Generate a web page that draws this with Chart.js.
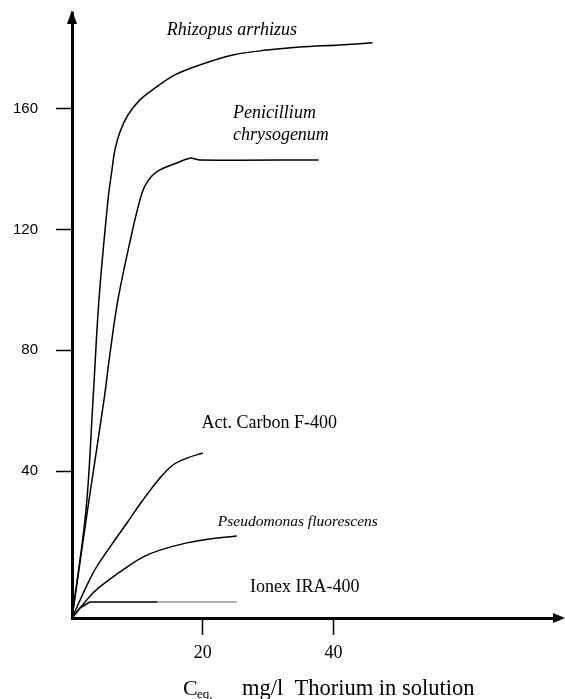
<!DOCTYPE html>
<html lang="en">
  <head>
    <meta charset="UTF-8" />
    <title>Thorium uptake isotherms</title>
    <script src="https://cdn.jsdelivr.net/npm/chart.js@4"></script>
    <style>
      body { margin: 0; background: #fff; }
    </style>
  </head>
  <body>
    <canvas id="myChart" width="565" height="699"></canvas>

    <script>
      // values (x: Ceq mg/l, y: uptake)
      const rhizopusX = [0, 2.14, 3.21, 4.12, 5.5, 6.11, 6.56, 7.33, 8.55, 10.38, 12.67, 15.73, 19.54, 24.58, 29.77, 34.81, 40.92, 45.95];
      const rhizopusY = [-8.7, 27.1, 63.5, 96.7, 129.8, 139.8, 146.4, 152.4, 158.0, 163.0, 166.9, 171.3, 174.6, 177.9, 179.5, 180.5, 181.2, 181.9];

      const penicilliumX = [0, 2.6, 4.89, 5.8, 7.02, 9.16, 10.38, 11.15, 12.21, 13.44, 16.03, 18.02, 19.54, 37.71];
      const penicilliumY = [-8.7, 30.4, 63.5, 78.8, 96.7, 118.9, 129.8, 134.5, 137.8, 139.8, 142.1, 143.7, 143.1, 143.1];

      const carbonX = [0, 3.21, 5.8, 8.4, 10.84, 13.44, 15.42, 17.56, 20.0];
      const carbonY = [-8.7, 6.2, 14.8, 22.8, 30.4, 37.7, 42.0, 44.3, 46.0];

      const pseudoX = [0, 3.21, 5.8, 8.4, 10.84, 13.44, 17.56, 21.07, 25.19];
      const pseudoY = [-8.7, -0.4, 4.2, 8.2, 11.5, 13.8, 16.2, 17.5, 18.5];

      const ionexX = [0, 1.2, 2.7, 13.1, 25.2];
      const ionexY = [-8.7, -5.4, -3.4, -3.4, -3.4];

      const xTicks = [20, 40];
      const yTicks = [40, 80, 120, 160];

      // curve labels: text, font, x, y (data units, left edge / middle)
      const labels = [
        ['Rhizopus arrhizus', 'italic 18px', 14.5, 186.2],
        ['Penicillium', 'italic 18px', 24.6, 158.7],
        ['chrysogenum', 'italic 18px', 24.6, 151.4],
        ['Act. Carbon F-400', '18px', 19.8, 55.9],
        ['Pseudomonas fluorescens', 'italic 15.5px', 22.3, 23.1],
        ['Ionex IRA-400', '18px', 27.2, 1.6]
      ];

      function pts(xs, ys) {
        return xs.map((x, i) => ({ x: x, y: ys[i] }));
      }

      function curve(data) {
        return {
          data: data,
          showLine: true,
          fill: false,
          borderColor: '#000',
          borderWidth: 1.5,
          pointRadius: 0,
          tension: 0.35
        };
      }

      const ionex = curve(pts(ionexX, ionexY));
      ionex.segment = {
        borderColor: c => (c.p0.parsed.x >= 13 ? '#9a9a9a' : '#000')
      };
      ionex.tension = 0;

      const serif = '"Liberation Serif", "Times New Roman", serif';

      const decor = {
        id: 'decor',
        afterDraw(chart) {
          const ctx = chart.ctx;
          const xs = chart.scales.x, ys = chart.scales.y;
          const a = chart.chartArea;
          ctx.save();
          ctx.fillStyle = '#000';
          // arrow heads
          ctx.beginPath();
          ctx.moveTo(a.left, a.top - 3);
          ctx.lineTo(a.left - 5, a.top + 11);
          ctx.lineTo(a.left + 5, a.top + 11);
          ctx.closePath();
          ctx.fill();
          ctx.fillRect(a.right - 2, a.bottom - 1.5, 3, 3);
          ctx.beginPath();
          ctx.moveTo(a.right + 9, a.bottom);
          ctx.lineTo(a.right - 3, a.bottom - 5);
          ctx.lineTo(a.right - 3, a.bottom + 5);
          ctx.closePath();
          ctx.fill();

          // curve labels
          ctx.textBaseline = 'middle';
          ctx.textAlign = 'left';
          labels.forEach(l => {
            ctx.font = l[1] + ' ' + serif;
            ctx.fillText(l[0], xs.getPixelForValue(l[2]), ys.getPixelForValue(l[3]));
          });

          // axis title with subscript
          ctx.textBaseline = 'alphabetic';
          const base = 695;
          ctx.font = '22px ' + serif;
          ctx.fillText('C', 183, base);
          ctx.font = '13px ' + serif;
          ctx.fillText('eq,', 197, base + 3);
          ctx.font = '22.5px ' + serif;
          ctx.fillText('mg/l  Thorium in solution', 242, base);
          ctx.restore();
        }
      };

      const ctx = document.getElementById('myChart').getContext('2d');
      const myChart = new Chart(ctx, {
        type: 'scatter',
        data: {
          datasets: [
            curve(pts(rhizopusX, rhizopusY)),
            curve(pts(penicilliumX, penicilliumY)),
            curve(pts(carbonX, carbonY)),
            curve(pts(pseudoX, pseudoY)),
            ionex
          ]
        },
        options: {
          responsive: false,
          animation: false,
          layout: { padding: { top: 13, right: 9, left: 0, bottom: 0 } },
          plugins: {
            legend: { display: false },
            tooltip: { enabled: false }
          },
          scales: {
            x: {
              type: 'linear',
              min: 0,
              max: 74,
              afterBuildTicks: s => { s.ticks = xTicks.map(v => ({ value: v })); },
              afterFit: s => { s.height = 81; s.paddingLeft = 0; s.paddingRight = 0; },
              border: { display: true, color: '#000', width: 3 },
              grid: {
                drawOnChartArea: false,
                drawTicks: true,
                tickLength: 17,
                tickWidth: 1.5,
                tickColor: '#000'
              },
              ticks: {
                color: '#000',
                padding: 7,
                maxRotation: 0,
                font: { family: serif, size: 18 }
              }
            },
            y: {
              type: 'linear',
              min: -8.7,
              max: 191.8,
              afterBuildTicks: s => { s.ticks = yTicks.map(v => ({ value: v })); },
              afterFit: s => { s.width = 72; s.paddingTop = 0; s.paddingBottom = 0; },
              border: { display: true, color: '#000', width: 3 },
              grid: {
                drawOnChartArea: false,
                drawTicks: true,
                tickLength: 16,
                tickWidth: 1.5,
                tickColor: '#000'
              },
              ticks: {
                color: '#000',
                padding: 18,
                font: { family: '"Liberation Sans", Arial, sans-serif', size: 15 }
              }
            }
          }
        },
        plugins: [decor]
      });
    </script>
  </body>
</html>
